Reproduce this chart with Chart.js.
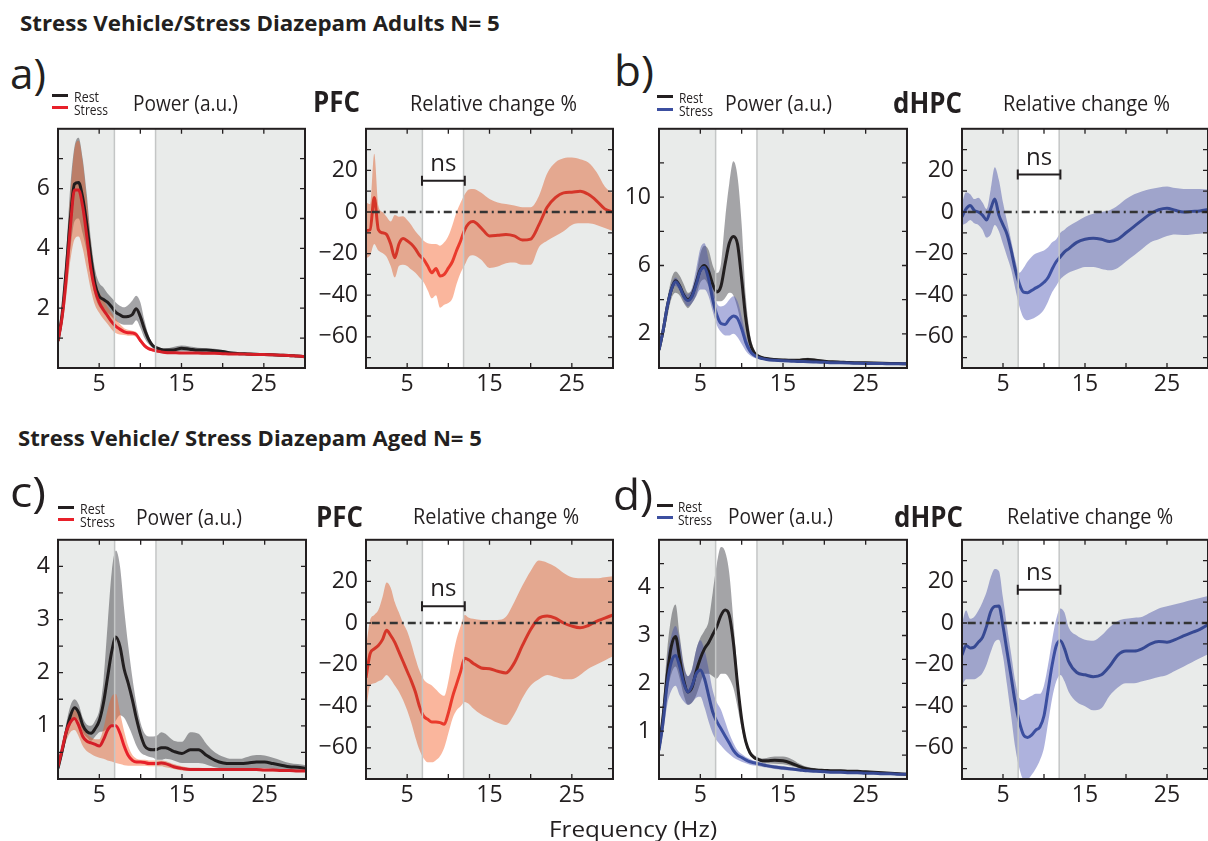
<!DOCTYPE html>
<html>
<head>
<meta charset="utf-8">
<script src="https://cdn.jsdelivr.net/npm/chart.js@4.4.1/dist/chart.umd.min.js"></script>
<style>
  body { margin: 0; width: 1208px; height: 841px; overflow: hidden; background: #fff; position: relative; font-family: "Open Sans", sans-serif; color: #231f20; }
  canvas { position: absolute; }
  .t { position: absolute; white-space: nowrap; line-height: 1; transform-origin: 0 0; }
  .mark { position: absolute; height: 3px; }
</style>
</head>
<body>
<script>
// Frequency grid (Hz), shared by every panel
const freq = [0, 0.5, 1, 1.5, 2, 2.5, 3, 3.5, 4, 4.5, 5, 5.5, 6, 6.5,
  7, 7.5, 8, 8.5, 9, 9.5, 10, 10.5, 11, 11.5, 12, 12.5, 13,
  14, 15, 16, 17, 18, 19, 20, 21, 22, 23, 24, 25, 26, 27, 28, 29, 30];

// Tick labels
const xLabelVals = [5, 15, 25];
const yLabelsA = [2, 4, 6];
const yLabelsB = [2, 6, 10];
const yLabelsC = [1, 2, 3, 4];
const yLabelsD = [1, 2, 3, 4];
const yLabelsRel = [-60, -40, -20, 0, 20];

// Theta window (white), "ns" bracket span and its level per panel (a, b, c, d)
const bandHz = [6.85, 11.85];
const nsSpan = [6.8, 12];
const nsLevel = [15, 18, 8, 16];
const zeroX = [0.7, 30];

// a) adults PFC power
const aRest = [0.9, 1.8, 3.3, 5.0, 6.15, 6.2, 5.7, 4.8, 3.7, 2.8, 2.4, 2.3, 2.2, 2.05,
  1.87, 1.78, 1.71, 1.72, 1.78, 1.98, 1.72, 1.3, 0.96, 0.75, 0.67, 0.62, 0.6,
  0.6, 0.66, 0.63, 0.6, 0.6, 0.58, 0.55, 0.5, 0.48, 0.47, 0.46, 0.45, 0.44, 0.43, 0.42, 0.4, 0.38];
const aRestHi = [1.0, 2.1, 3.9, 6.1, 7.4, 7.7, 7.0, 5.8, 4.3, 3.3, 2.85, 2.7, 2.5, 2.35,
  2.2, 2.08, 2.03, 2.1, 2.25, 2.42, 2.2, 1.6, 1.1, 0.82, 0.72, 0.67, 0.65,
  0.7, 0.75, 0.72, 0.68, 0.66, 0.64, 0.6, 0.55, 0.53, 0.52, 0.5, 0.49, 0.47, 0.46, 0.45, 0.43, 0.41];
const aRestLo = [0.8, 1.5, 2.8, 4.0, 4.9, 5.0, 4.5, 3.9, 3.1, 2.4, 2.05, 1.95, 1.85, 1.72,
  1.58, 1.5, 1.45, 1.45, 1.45, 1.6, 1.35, 1.0, 0.8, 0.66, 0.6, 0.57, 0.55,
  0.53, 0.56, 0.55, 0.53, 0.54, 0.53, 0.5, 0.46, 0.44, 0.43, 0.42, 0.41, 0.41, 0.4, 0.39, 0.38, 0.35];
const aStress = [0.9, 1.7, 3.0, 4.7, 5.95, 5.95, 5.4, 4.4, 3.3, 2.6, 2.2, 1.95, 1.75, 1.55,
  1.4, 1.3, 1.22, 1.18, 1.17, 1.12, 0.92, 0.75, 0.65, 0.6, 0.57, 0.54, 0.52,
  0.51, 0.5, 0.5, 0.5, 0.49, 0.49, 0.48, 0.47, 0.47, 0.46, 0.45, 0.45, 0.44, 0.43, 0.42, 0.4, 0.38];
const aStressHi = [1.0, 2.0, 3.6, 5.8, 7.3, 7.6, 6.9, 5.6, 4.1, 3.1, 2.55, 2.3, 2.05, 1.85,
  1.65, 1.48, 1.34, 1.28, 1.25, 1.2, 1.0, 0.82, 0.7, 0.64, 0.6, 0.57, 0.55,
  0.54, 0.53, 0.53, 0.53, 0.52, 0.52, 0.51, 0.5, 0.5, 0.49, 0.48, 0.48, 0.47, 0.46, 0.45, 0.43, 0.41];
const aStressLo = [0.8, 1.4, 2.4, 3.6, 4.3, 4.4, 4.0, 3.3, 2.6, 2.1, 1.85, 1.65, 1.48, 1.3,
  1.17, 1.12, 1.1, 1.08, 1.08, 1.03, 0.85, 0.69, 0.6, 0.56, 0.54, 0.51, 0.49,
  0.48, 0.47, 0.47, 0.47, 0.46, 0.46, 0.45, 0.44, 0.44, 0.43, 0.42, 0.42, 0.41, 0.4, 0.39, 0.37, 0.35];
// a) relative change %
const aRel = [-8.9, -8.5, 7.0, -8.5, -10, -10.8, -15.4, -22, -15.4, -12.8, -13.8, -15.4, -17.7, -20.8,
  -22.8, -26, -29.2, -27.2, -30.8, -30, -27, -23.8, -18.5, -13.8, -8.5, -5.4, -4.6,
  -7.7, -11.5, -11.2, -10.8, -11.5, -13.5, -13, -6.2, 2.3, 6.9, 9.2, 9.5, 10, 8.5, 5.4, 1.5, 0];
const aRelHi = [4.6, 3.8, 28, 3, 0, -2.3, -4.6, -1.5, -2.3, -2, -3.8, -6.2, -9.2, -11.5,
  -13.8, -15, -15.4, -15.4, -16.2, -14.6, -11.5, -6.2, 0, 4.6, 8.5, 10.8, 11,
  9.2, 6.2, 4.6, 3.8, 3.1, 2.3, 2.3, 7.7, 18.5, 23.8, 25.8, 26.2, 25.4, 23.8, 19.2, 12.3, 8.9];
const aRelLo = [-22.3, -20.8, -15.4, -18.5, -19.7, -21.5, -26, -31.5, -26, -25.4, -26, -27.7, -29.2, -31.5,
  -33.8, -37.7, -41.5, -40, -46, -44.6, -43.8, -41.5, -34.6, -29.2, -25.4, -21.5, -20.8,
  -23, -26.9, -26.2, -24.6, -24.3, -25.4, -25.4, -16.9, -13.8, -11.5, -9.2, -6.2, -5.4, -5.4, -6.2, -7.7, -9.2];

// b) adults dHPC power
const bRest = [1.06, 2.2, 3.6, 4.6, 5.1, 4.8, 4.25, 4.0, 4.25, 5.0, 5.75, 6.0, 5.65, 4.9,
  4.45, 4.8, 6.1, 7.3, 7.7, 7.25, 5.2, 2.9, 1.5, 0.9, 0.7, 0.6, 0.55,
  0.5, 0.47, 0.45, 0.46, 0.5, 0.46, 0.4, 0.36, 0.34, 0.32, 0.31, 0.3, 0.29, 0.28, 0.27, 0.26, 0.25];
const bRestHi = [1.25, 2.55, 4.0, 5.2, 5.65, 5.4, 4.9, 4.4, 4.6, 5.4, 6.7, 7.15, 6.9, 6.0,
  5.55, 6.1, 8.7, 10.8, 12.1, 11.2, 8.4, 4.2, 2.0, 1.1, 0.8, 0.68, 0.62,
  0.56, 0.52, 0.5, 0.53, 0.6, 0.53, 0.45, 0.4, 0.37, 0.35, 0.34, 0.33, 0.32, 0.31, 0.3, 0.29, 0.28];
const bRestLo = [0.9, 1.8, 2.95, 4.05, 4.4, 4.25, 3.8, 3.5, 3.8, 4.25, 5.0, 5.2, 4.8, 4.25,
  3.9, 3.9, 4.1, 4.4, 4.25, 3.5, 2.4, 1.45, 0.9, 0.7, 0.6, 0.52, 0.48,
  0.44, 0.42, 0.4, 0.4, 0.42, 0.4, 0.35, 0.32, 0.31, 0.29, 0.28, 0.27, 0.26, 0.25, 0.24, 0.23, 0.22];
const bStress = [1.06, 2.2, 3.6, 4.6, 5.05, 4.75, 4.2, 3.95, 4.2, 4.9, 5.7, 5.9, 5.2, 4.0,
  3.1, 2.6, 2.55, 2.85, 3.05, 2.9, 2.3, 1.5, 1.0, 0.75, 0.62, 0.55, 0.5,
  0.45, 0.42, 0.4, 0.38, 0.37, 0.35, 0.33, 0.31, 0.3, 0.29, 0.28, 0.27, 0.26, 0.26, 0.25, 0.25, 0.24];
const bStressHi = [1.15, 2.4, 3.9, 4.9, 5.3, 5.0, 4.5, 4.3, 4.7, 5.8, 7.0, 7.3, 6.3, 4.8,
  3.8, 3.6, 3.7, 4.0, 4.2, 3.9, 3.0, 1.9, 1.2, 0.85, 0.7, 0.62, 0.56,
  0.5, 0.47, 0.45, 0.43, 0.42, 0.4, 0.37, 0.35, 0.34, 0.33, 0.32, 0.31, 0.3, 0.29, 0.29, 0.28, 0.27];
const bStressLo = [0.95, 2.0, 3.3, 4.3, 4.8, 4.5, 3.9, 3.6, 3.8, 4.2, 4.6, 4.6, 4.2, 3.3,
  2.5, 2.1, 1.9, 1.9, 2.0, 1.8, 1.4, 1.0, 0.75, 0.6, 0.52, 0.48, 0.44,
  0.4, 0.37, 0.35, 0.34, 0.33, 0.31, 0.29, 0.28, 0.27, 0.26, 0.25, 0.24, 0.23, 0.23, 0.22, 0.22, 0.21];
// b) relative change %
const bRel = [-2.3, 1.5, 3.1, 0.8, 0, -1.5, -3.8, 1.5, 6.2, -1.5, -6.2, -10.8, -18.5, -27.7,
  -34.6, -38.5, -38.8, -37.7, -36.5, -35.4, -33.8, -31.5, -27.4, -23.8, -21.5, -19.2, -17.7,
  -14.6, -13.1, -12.6, -13.1, -14.2, -13.1, -10, -6.9, -3.8, -0.8, 1.1, 1.8, 0.8, 0, 0.3, 0.5, 1.2];
const bRelHi = [4.6, 9.5, 8.5, 6.2, 6.9, 4.6, 1.5, 10.8, 21.5, 15.4, 4.6, -4.6, -13.8, -23,
  -29.2, -26.9, -23.8, -21.5, -20, -19.2, -18.5, -16.9, -14.6, -13.1, -10, -8.5, -6.9,
  -4.6, -2.3, -0.8, 0, 0.8, 3.1, 6.2, 8.5, 10, 11.1, 11.8, 12.3, 11.5, 11.1, 11.1, 11.1, 10.8];
const bRelLo = [-6.2, -5.4, -3.8, -5.4, -6.2, -8.5, -12.3, -10.8, -6.2, -9.2, -15.4, -21.5, -27.7, -36.9,
  -45.4, -50.8, -52, -51.5, -50.5, -49.2, -46.9, -43, -38.5, -35.4, -32.3, -30.5, -29.2,
  -27.7, -26.5, -26.5, -27.4, -28, -26.9, -23.8, -20.8, -17.7, -14.6, -13.1, -11.5, -10.8, -11.1, -10.8, -10.5, -10];

// c) aged PFC power
const cRest = [0.2, 0.53, 0.89, 1.19, 1.34, 1.25, 1.01, 0.89, 0.86, 0.95, 1.1, 1.43, 1.92, 2.4,
  2.67, 2.49, 2.07, 1.8, 1.49, 1.13, 0.83, 0.62, 0.56, 0.55, 0.56, 0.59, 0.59,
  0.52, 0.48, 0.55, 0.55, 0.44, 0.35, 0.3, 0.29, 0.29, 0.3, 0.32, 0.32, 0.29, 0.26, 0.23, 0.22, 0.2];
const cRestHi = [0.25, 0.65, 1.05, 1.38, 1.5, 1.4, 1.15, 1.02, 1.0, 1.1, 1.3, 1.85, 2.9, 3.9,
  4.3, 4.0, 3.2, 2.5, 1.9, 1.4, 1.05, 0.85, 0.8, 0.8, 0.82, 0.88, 0.85,
  0.72, 0.7, 0.88, 0.85, 0.65, 0.5, 0.42, 0.38, 0.38, 0.42, 0.45, 0.44, 0.4, 0.35, 0.3, 0.28, 0.26];
const cRestLo = [0.15, 0.42, 0.75, 1.0, 1.15, 1.1, 0.88, 0.78, 0.72, 0.8, 0.88, 0.9, 0.95, 1.0,
  1.1, 1.2, 1.15, 1.0, 0.82, 0.62, 0.5, 0.45, 0.42, 0.4, 0.36, 0.36, 0.38,
  0.35, 0.3, 0.3, 0.3, 0.27, 0.22, 0.2, 0.2, 0.2, 0.2, 0.2, 0.2, 0.19, 0.18, 0.17, 0.16, 0.15];
const cStress = [0.23, 0.56, 0.89, 1.07, 1.14, 1.01, 0.8, 0.71, 0.68, 0.65, 0.62, 0.74, 0.92, 1.0,
  1.0, 0.86, 0.62, 0.44, 0.35, 0.32, 0.32, 0.31, 0.29, 0.29, 0.29, 0.3, 0.29,
  0.23, 0.2, 0.18, 0.18, 0.18, 0.18, 0.18, 0.18, 0.18, 0.18, 0.18, 0.17, 0.17, 0.16, 0.16, 0.15, 0.15];
const cStressHi = [0.26, 0.62, 0.98, 1.2, 1.3, 1.2, 0.98, 0.85, 0.78, 0.75, 0.75, 0.95, 1.3, 1.55,
  1.6, 1.25, 0.9, 0.62, 0.45, 0.38, 0.36, 0.36, 0.35, 0.35, 0.35, 0.35, 0.34,
  0.28, 0.24, 0.21, 0.21, 0.2, 0.2, 0.2, 0.2, 0.2, 0.2, 0.2, 0.19, 0.19, 0.18, 0.18, 0.17, 0.17];
const cStressLo = [0.2, 0.45, 0.72, 0.88, 0.92, 0.8, 0.62, 0.52, 0.47, 0.43, 0.4, 0.38, 0.35, 0.33,
  0.3, 0.28, 0.26, 0.25, 0.25, 0.25, 0.25, 0.25, 0.24, 0.24, 0.24, 0.24, 0.22,
  0.19, 0.16, 0.15, 0.15, 0.15, 0.15, 0.15, 0.15, 0.15, 0.15, 0.15, 0.14, 0.14, 0.14, 0.13, 0.13, 0.13];
// c) relative change %
const cRel = [-26.3, -14.7, -12.4, -10.8, -8, -3.5, -6, -9.3, -13.9, -18.5, -23.2, -27.8, -33.2, -40.2,
  -44.8, -46.3, -47.6, -47.6, -47.9, -48.7, -43.3, -35.6, -29.4, -23.2, -17, -17.8, -19.3,
  -21.6, -22, -23.2, -24, -19.3, -10.8, -3.1, 2.3, 3.4, 2.3, 0, -1.5, -2.3, -1.2, 0.8, 2.3, 3.9];
const cRelHi = [-12, 1.5, 3.9, 6.2, 12.4, 19.5, 17, 10, 5, 0, -4, -10, -17, -23,
  -27, -29, -30, -32, -34, -35, -28, -17, -7.7, -1.5, 3.9, 2.5, 2,
  1.5, 1.5, 1.5, 3, 10, 18, 25, 30, 29, 27, 24, 22, 21.5, 21.5, 21.5, 22, 22.5];
const cRelLo = [-42, -30, -29, -28, -27, -25, -27, -30, -33, -37, -42, -48, -55, -61,
  -65, -67, -67, -66, -64, -60, -53, -46, -42, -40, -38, -39, -41,
  -44, -46, -48, -49, -44, -36, -30, -27, -25, -26, -27, -27, -25, -22, -20, -18, -16];

// d) aged dHPC power
const dRest = [0.65, 1.32, 2.18, 2.78, 2.98, 2.52, 2.05, 1.82, 1.92, 2.25, 2.52, 2.72, 2.85, 3.02,
  3.19, 3.42, 3.53, 3.42, 2.85, 1.98, 1.25, 0.78, 0.55, 0.45, 0.41, 0.38, 0.38,
  0.39, 0.38, 0.33, 0.26, 0.21, 0.19, 0.18, 0.17, 0.17, 0.16, 0.16, 0.15, 0.14, 0.13, 0.12, 0.11, 0.1];
const dRestHi = [0.72, 1.6, 2.7, 3.4, 3.65, 3.0, 2.4, 2.15, 2.3, 2.7, 2.95, 3.1, 3.3, 3.9,
  4.5, 4.85, 4.75, 4.3, 3.3, 2.2, 1.35, 0.85, 0.6, 0.5, 0.45, 0.43, 0.44,
  0.47, 0.47, 0.42, 0.32, 0.25, 0.22, 0.2, 0.19, 0.19, 0.18, 0.18, 0.17, 0.16, 0.15, 0.14, 0.13, 0.12];
const dRestLo = [0.58, 1.1, 1.8, 2.2, 2.35, 2.1, 1.75, 1.55, 1.6, 1.75, 2.0, 2.2, 2.2, 2.15,
  2.1, 2.2, 2.2, 2.1, 1.9, 1.5, 1.05, 0.7, 0.5, 0.42, 0.38, 0.34, 0.33,
  0.32, 0.31, 0.27, 0.22, 0.18, 0.17, 0.16, 0.15, 0.15, 0.14, 0.14, 0.13, 0.12, 0.11, 0.1, 0.09, 0.08];
const dStress = [0.6, 1.2, 2.0, 2.45, 2.58, 2.35, 2.0, 1.82, 1.95, 2.2, 2.28, 2.1, 1.75, 1.4,
  1.2, 1.05, 0.9, 0.75, 0.6, 0.5, 0.45, 0.4, 0.36, 0.34, 0.32, 0.3, 0.28,
  0.25, 0.23, 0.21, 0.19, 0.17, 0.16, 0.15, 0.14, 0.14, 0.13, 0.13, 0.12, 0.12, 0.11, 0.11, 0.1, 0.1];
const dStressHi = [0.68, 1.5, 2.5, 3.0, 3.2, 2.9, 2.35, 2.15, 2.3, 2.7, 2.9, 2.7, 2.3, 1.85,
  1.6, 1.45, 1.2, 0.95, 0.75, 0.6, 0.52, 0.46, 0.42, 0.38, 0.36, 0.34, 0.32,
  0.29, 0.27, 0.24, 0.22, 0.2, 0.18, 0.17, 0.16, 0.16, 0.15, 0.15, 0.14, 0.14, 0.13, 0.13, 0.12, 0.12];
const dStressLo = [0.52, 0.95, 1.55, 1.85, 1.95, 1.75, 1.62, 1.55, 1.6, 1.7, 1.72, 1.5, 1.2, 0.95,
  0.8, 0.7, 0.6, 0.52, 0.45, 0.4, 0.36, 0.33, 0.3, 0.28, 0.27, 0.25, 0.24,
  0.21, 0.19, 0.18, 0.16, 0.15, 0.14, 0.13, 0.12, 0.12, 0.11, 0.11, 0.1, 0.1, 0.09, 0.09, 0.08, 0.08];
// d) relative change %
const dRel = [-15.4, -10.8, -12, -11.5, -9.2, -6.9, -1.5, 5.4, 8, 8.2, -1.5, -13.8, -26, -38.5,
  -47.7, -53.8, -55, -53.8, -51.5, -50, -44.6, -32.3, -20, -10.8, -8.5, -12.3, -18.5,
  -23.8, -24.9, -25.8, -24.9, -20.8, -15.4, -13.5, -13.5, -12.3, -10, -8.9, -9.2, -8, -6.2, -4.6, -3.1, -0.8];
const dRelHi = [0, 6, 2, 3, 6, 10, 15, 22, 26, 25, 12, -2, -15, -28,
  -36, -37, -36, -35, -34, -34, -30, -20, -8, 2, 7, 5, -2,
  -6, -8, -8.5, -6, -2, 1, 2, 2.5, 3, 5, 7, 8, 9, 10, 11, 12, 13];
const dRelLo = [-30, -27, -27, -27, -26, -24, -20, -14, -9, -8, -16, -30, -45, -60,
  -70, -75, -75, -73, -70, -66, -60, -48, -36, -28, -25, -28, -33,
  -38, -40, -42, -41, -35, -31, -29, -29, -28, -27, -26, -25, -23, -21, -19, -17, -15];

// Colours
const cBlack = '#231f20';
const cRed = '#e8202a';
const cRedRel = '#ea3a2c';
const cBlue = '#3c4fa0';
const bandGrey = 'rgba(90,90,95,0.55)';
const bandRed = 'rgba(245,110,60,0.5)';
const bandBlue = 'rgba(75,85,180,0.45)';
const tickFont = { family: 'Open Sans', size: 23 };

const pts = ys => freq.map((f, i) => ({ x: f, y: ys[i] }));

function line(ys, color) {
  return { data: pts(ys), borderColor: color, borderWidth: 3, pointRadius: 0, fill: false, cubicInterpolationMode: 'monotone' };
}
function band(hi, lo, color) {
  return [
    { data: pts(hi), borderWidth: 0, pointRadius: 0, backgroundColor: color, fill: '+1', cubicInterpolationMode: 'monotone' },
    { data: pts(lo), borderWidth: 0, pointRadius: 0, fill: false, cubicInterpolationMode: 'monotone' }
  ];
}
function zeroLine() {
  return { data: zeroX.map(x => ({ x, y: 0 })), borderColor: '#383838', borderWidth: 2.6, borderDash: [8, 4, 2, 4], pointRadius: 0, fill: false };
}

const fmt = v => v < 0 ? '\u2212' + (-v) : String(v);

// shaded background, frame, inward ticks, "ns" bracket
const deco = {
  id: 'deco',
  beforeDatasetsDraw(chart) {
    const { ctx, chartArea: a } = chart;
    ctx.save();
    ctx.fillStyle = '#fff';
    ctx.fillRect(a.left, a.top, a.right - a.left, a.bottom - a.top);
    ctx.restore();
  },
  afterDatasetsDraw(chart, args, opts) {
    const { ctx, chartArea: a, scales: { x, y } } = chart;
    const xa = x.getPixelForValue(bandHz[0]);
    const xb = x.getPixelForValue(bandHz[1]);
    ctx.save();
    ctx.globalCompositeOperation = 'multiply';
    ctx.fillStyle = '#e9ebea';
    ctx.fillRect(a.left, a.top, xa - a.left, a.bottom - a.top);
    ctx.fillRect(xb, a.top, a.right - xb, a.bottom - a.top);
    ctx.globalCompositeOperation = 'source-over';
    ctx.strokeStyle = '#c4c6c6';
    ctx.lineWidth = 1.5;
    [xa, xb].forEach(px => {
      ctx.beginPath(); ctx.moveTo(px, a.top); ctx.lineTo(px, a.bottom); ctx.stroke();
    });

    if (opts.ns != null) {
      const p0 = x.getPixelForValue(nsSpan[0]);
      const p1 = x.getPixelForValue(nsSpan[1]);
      const py = y.getPixelForValue(opts.ns);
      ctx.strokeStyle = cBlack;
      ctx.lineWidth = 2;
      ctx.beginPath();
      ctx.moveTo(p0, py); ctx.lineTo(p1, py);
      ctx.moveTo(p0, py - 5); ctx.lineTo(p0, py + 5);
      ctx.moveTo(p1, py - 5); ctx.lineTo(p1, py + 5);
      ctx.stroke();
      ctx.fillStyle = cBlack;
      ctx.font = '24px "Open Sans"';
      ctx.textAlign = 'center';
      ctx.textBaseline = 'alphabetic';
      ctx.fillText('ns', (p0 + p1) / 2, py - 10);
    }

    ctx.strokeStyle = cBlack;
    ctx.lineWidth = 1.3;
    ctx.beginPath();
    y.ticks.forEach(t => {
      if (t.value <= y.min || t.value >= y.max) return;
      const py = y.getPixelForValue(t.value);
      ctx.moveTo(a.left, py); ctx.lineTo(a.left + 5, py);
      ctx.moveTo(a.right - 5, py); ctx.lineTo(a.right, py);
    });
    x.ticks.forEach(t => {
      if (t.value <= x.min || t.value >= x.max) return;
      const px = x.getPixelForValue(t.value);
      ctx.moveTo(px, a.bottom); ctx.lineTo(px, a.bottom - 5);
      ctx.moveTo(px, a.top); ctx.lineTo(px, a.top + 5);
    });
    ctx.stroke();
    ctx.lineWidth = 2;
    ctx.strokeRect(a.left, a.top, a.right - a.left, a.bottom - a.top);
    ctx.restore();
  }
};
Chart.register(deco);

function panel(box, yMin, yMax, yStep, yLabels, datasets, ns) {
  const padL = 60, padT = 14, padB = 40, padR = 4;
  const c = document.createElement('canvas');
  c.width = padL + box.w + padR;
  c.height = padT + box.h + padB;
  c.style.left = (box.x - padL) + 'px';
  c.style.top = (box.y - padT) + 'px';
  document.body.appendChild(c);
  new Chart(c, {
    type: 'line',
    data: { datasets },
    options: {
      responsive: false,
      animation: false,
      devicePixelRatio: 1,
      layout: { padding: { top: padT, right: padR, left: 0, bottom: 0 } },
      plugins: { legend: { display: false }, tooltip: { enabled: false }, deco: { ns } },
      scales: {
        x: {
          type: 'linear', min: 0, max: 30,
          grid: { display: false, drawTicks: false }, border: { display: false },
          ticks: { stepSize: 5, autoSkip: false, maxRotation: 0, padding: 3, color: cBlack, font: tickFont,
            callback: v => xLabelVals.includes(v) ? String(v) : '' },
          afterFit: s => { s.height = padB; }
        },
        y: {
          min: yMin, max: yMax,
          grid: { display: false, drawTicks: false }, border: { display: false },
          ticks: { stepSize: yStep, autoSkip: false, includeBounds: false, padding: 8, color: cBlack, font: tickFont,
            callback: v => yLabels.includes(v) ? fmt(v) : '' },
          afterFit: s => { s.width = padL; }
        }
      }
    }
  });
}

function powerSets(rest, restHi, restLo, stress, stressHi, stressLo, sColor, sBand) {
  return [line(stress, sColor), line(rest, cBlack), ...band(stressHi, stressLo, sBand), ...band(restHi, restLo, bandGrey)];
}
function relSets(rel, hi, lo, color, bandColor) {
  return [zeroLine(), line(rel, color), ...band(hi, lo, bandColor)];
}

panel({ x: 58, y: 121, w: 247, h: 247 }, 0, 8, 1, yLabelsA,
  powerSets(aRest, aRestHi, aRestLo, aStress, aStressHi, aStressLo, cRed, bandRed));
panel({ x: 366, y: 121, w: 247, h: 247 }, -75, 40, 10, yLabelsRel,
  relSets(aRel, aRelHi, aRelLo, cRedRel, bandRed), nsLevel[0]);
panel({ x: 659, y: 121, w: 248, h: 247 }, 0, 14, 2, yLabelsB,
  powerSets(bRest, bRestHi, bRestLo, bStress, bStressHi, bStressLo, cBlue, bandBlue));
panel({ x: 962, y: 121, w: 246, h: 247 }, -75, 40, 10, yLabelsRel,
  relSets(bRel, bRelHi, bRelLo, cBlue, bandBlue), nsLevel[1]);
panel({ x: 58, y: 532, w: 248, h: 247 }, 0, 4.5, 0.5, yLabelsC,
  powerSets(cRest, cRestHi, cRestLo, cStress, cStressHi, cStressLo, cRed, bandRed));
panel({ x: 366, y: 532, w: 247, h: 247 }, -75, 40, 10, yLabelsRel,
  relSets(cRel, cRelHi, cRelLo, cRedRel, bandRed), nsLevel[2]);
panel({ x: 659, y: 532, w: 248, h: 247 }, 0, 5, 0.5, yLabelsD,
  powerSets(dRest, dRestHi, dRestLo, dStress, dStressHi, dStressLo, cBlue, bandBlue));
panel({ x: 962, y: 532, w: 246, h: 247 }, -75, 40, 10, yLabelsRel,
  relSets(dRel, dRelHi, dRelLo, cBlue, bandBlue), nsLevel[3]);

// Text: placed by left edge / visual centre, squeezed to the reference width
function txt(s, left, cy, size, width, bold) {
  const d = document.createElement('div');
  d.className = 't';
  d.textContent = s;
  d.style.font = (bold ? '700 ' : '400 ') + size + 'px "Open Sans"';
  d.style.left = left + 'px';
  d.style.top = (cy - 0.53 * size) + 'px';
  document.body.appendChild(d);
  const w = d.getBoundingClientRect().width;
  d.style.transform = 'scaleX(' + (width / w).toFixed(3) + ')';
}
function mark(left, cy, color) {
  const d = document.createElement('div');
  d.className = 'mark';
  d.style.left = left + 'px';
  d.style.top = (cy - 1.5) + 'px';
  d.style.width = '16px';
  d.style.background = color;
  document.body.appendChild(d);
}

txt('Stress Vehicle/Stress Diazepam Adults N= 5', 20, 20, 21, 480, true);
txt('a)', 10, 66, 42, 36, false);
mark(52, 95, cBlack); mark(52, 107, cRed);
txt('Rest', 74, 94, 14, 25, false);
txt('Stress', 74, 107, 14, 34, false);
txt('Power (a.u.)', 133, 100, 21, 105, false);
txt('PFC', 313, 97, 28, 47, true);
txt('Relative change %', 410, 100, 21, 167, false);

txt('b)', 614, 63, 42, 40, false);
mark(657, 96, cBlack); mark(657, 109, cBlue);
txt('Rest', 679, 95, 14, 24, false);
txt('Stress', 679, 108, 14, 34, false);
txt('Power (a.u.)', 725, 100, 21, 107, false);
txt('dHPC', 893, 98, 28, 69, true);
txt('Relative change %', 1003, 100, 21, 167, false);

txt('Stress Vehicle/ Stress Diazepam Aged N= 5', 18, 435, 21, 464, true);
txt('c)', 10, 484, 42, 36, false);
mark(58, 507, cBlack); mark(58, 519, cRed);
txt('Rest', 80, 506, 14, 25, false);
txt('Stress', 80, 519, 14, 35, false);
txt('Power (a.u.)', 136, 514, 21, 106, false);
txt('PFC', 316, 512, 28, 47, true);
txt('Relative change %', 413, 513, 21, 166, false);

txt('d)', 613, 487, 42, 40, false);
mark(657, 505, cBlack); mark(657, 517, cBlue);
txt('Rest', 678, 504, 14, 24, false);
txt('Stress', 678, 517, 14, 34, false);
txt('Power (a.u.)', 728, 513, 21, 105, false);
txt('dHPC', 894, 512, 28, 69, true);
txt('Relative change %', 1007, 513, 21, 166, false);

txt('Frequency (Hz)', 549, 826, 21, 168, false);
</script>
</body>
</html>
